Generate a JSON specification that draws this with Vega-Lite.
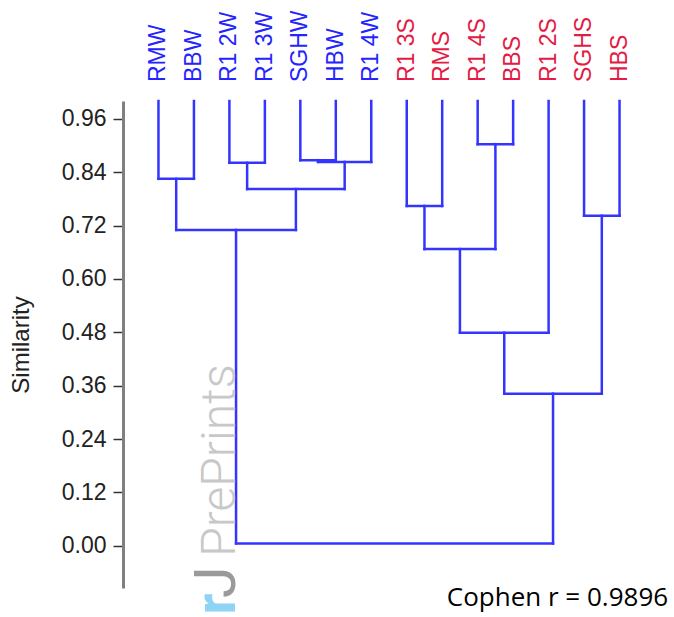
{
  "$schema": "https://vega.github.io/schema/vega-lite/v6.json",
  "autosize": {"type": "none"},
  "padding": {"left": 123, "top": 101, "right": 19, "bottom": 29},
  "width": 532,
  "height": 487,
  "background": "white",
  "config": {"view": {"stroke": null}, "font": "Liberation Sans"},
  "datasets": {
    "merges": [
      {"node": "A", "xl": 0, "hl": 1, "xr": 1, "hr": 1, "h": 0.825},
      {"node": "B", "xl": 2, "hl": 1, "xr": 3, "hr": 1, "h": 0.861},
      {"node": "C", "xl": 4, "hl": 1, "xr": 5, "hr": 1, "h": 0.867},
      {"node": "D", "xl": 4.5, "hl": 0.867, "xr": 6, "hr": 1, "h": 0.863},
      {"node": "E", "xl": 2.5, "hl": 0.861, "xr": 5.25, "hr": 0.863, "h": 0.802},
      {"node": "F", "xl": 0.5, "hl": 0.825, "xr": 3.875, "hr": 0.802, "h": 0.71},
      {"node": "G", "xl": 7, "hl": 1, "xr": 8, "hr": 1, "h": 0.764},
      {"node": "H", "xl": 9, "hl": 1, "xr": 10, "hr": 1, "h": 0.903},
      {"node": "I", "xl": 7.5, "hl": 0.764, "xr": 9.5, "hr": 0.903, "h": 0.667},
      {"node": "J", "xl": 8.5, "hl": 0.667, "xr": 11, "hr": 1, "h": 0.479},
      {"node": "K", "xl": 12, "hl": 1, "xr": 13, "hr": 1, "h": 0.742},
      {"node": "L", "xl": 9.75, "hl": 0.479, "xr": 12.5, "hr": 0.742, "h": 0.342},
      {"node": "root", "xl": 2.1875, "hl": 0.71, "xr": 11.125, "hr": 0.342, "h": 0.005}
    ],
    "leaves": [
      {"i": 0, "name": "RMW", "season": "W"},
      {"i": 1, "name": "BBW", "season": "W"},
      {"i": 2, "name": "R1 2W", "season": "W"},
      {"i": 3, "name": "R1 3W", "season": "W"},
      {"i": 4, "name": "SGHW", "season": "W"},
      {"i": 5, "name": "HBW", "season": "W"},
      {"i": 6, "name": "R1 4W", "season": "W"},
      {"i": 7, "name": "R1 3S", "season": "S"},
      {"i": 8, "name": "RMS", "season": "S"},
      {"i": 9, "name": "R1 4S", "season": "S"},
      {"i": 10, "name": "BBS", "season": "S"},
      {"i": 11, "name": "R1 2S", "season": "S"},
      {"i": 12, "name": "SGHS", "season": "S"},
      {"i": 13, "name": "HBS", "season": "S"}
    ]
  },
  "layer": [
    {
      "data": {"name": "merges"},
      "mark": {"type": "rule", "color": "#3434ff", "strokeWidth": 2.5, "strokeCap": "square"},
      "encoding": {
        "x": {"field": "xl", "type": "quantitative", "scale": {"domain": [-1, 14], "nice": false, "zero": false}, "axis": null},
        "y": {
          "field": "hl", "type": "quantitative",
          "scale": {"domain": [-0.095, 1.0], "nice": false, "zero": false},
          "axis": {
            "title": "Similarity",
            "titleFont": "Liberation Sans",
            "titleFontSize": 24,
            "titleFontWeight": "normal",
            "titleColor": "#222",
            "titleX": -90,
            "titleBaseline": "bottom",
            "values": [0, 0.12, 0.24, 0.36, 0.48, 0.6, 0.72, 0.84, 0.96],
            "format": ".2f",
            "grid": false,
            "domainColor": "#808080",
            "domainWidth": 3,
            "tickColor": "#333",
            "tickWidth": 1.5,
            "tickSize": 10,
            "labelFont": "Liberation Sans",
            "labelFontSize": 23,
            "labelColor": "#222",
            "labelPadding": 7
          }
        },
        "y2": {"field": "h"}
      }
    },
    {
      "data": {"name": "merges"},
      "mark": {"type": "rule", "color": "#3434ff", "strokeWidth": 2.5, "strokeCap": "square"},
      "encoding": {
        "x": {"field": "xr", "type": "quantitative"},
        "y": {"field": "hr", "type": "quantitative"},
        "y2": {"field": "h"}
      }
    },
    {
      "data": {"name": "merges"},
      "mark": {"type": "rule", "color": "#3434ff", "strokeWidth": 2.5, "strokeCap": "square"},
      "encoding": {
        "x": {"field": "xl", "type": "quantitative"},
        "x2": {"field": "xr"},
        "y": {"field": "h", "type": "quantitative"}
      }
    },
    {
      "data": {"name": "leaves"},
      "transform": [{"calculate": "1", "as": "top"}],
      "mark": {"type": "text", "angle": 270, "align": "left", "baseline": "middle", "dx": 19, "font": "Liberation Sans", "fontSize": 23},
      "encoding": {
        "x": {"field": "i", "type": "quantitative"},
        "y": {"field": "top", "type": "quantitative"},
        "text": {"field": "name"},
        "color": {"field": "season", "type": "nominal", "scale": {"domain": ["W", "S"], "range": ["#2424ff", "#e31b45"]}, "legend": null}
      }
    },
    {
      "data": {"values": [{"t": "PrePrints", "px": 2.17, "py": -0.025}]},
      "mark": {"type": "text", "angle": 270, "align": "left", "baseline": "alphabetic", "font": "Roboto", "fontWeight": 300, "fontSize": 48, "color": "#c8c8c8"},
      "encoding": {
        "x": {"field": "px", "type": "quantitative"},
        "y": {"field": "py", "type": "quantitative"},
        "text": {"field": "t"}
      }
    },
    {
      "data": {"values": [{"t": "J", "px": 2.17, "py": -0.118}]},
      "mark": {"type": "text", "angle": 270, "align": "left", "baseline": "alphabetic", "font": "Roboto", "fontWeight": "normal", "fontSize": 58, "color": "#9a9a9a"},
      "encoding": {
        "x": {"field": "px", "type": "quantitative"},
        "y": {"field": "py", "type": "quantitative"},
        "text": {"field": "t"}
      }
    },
    {
      "data": {"values": [{"t": "r", "px": 2.17, "py": -0.155}]},
      "mark": {"type": "text", "angle": 270, "align": "left", "baseline": "alphabetic", "font": "Roboto", "fontWeight": "bold", "fontSize": 58, "color": "#8fd3f5"},
      "encoding": {
        "x": {"field": "px", "type": "quantitative"},
        "y": {"field": "py", "type": "quantitative"},
        "text": {"field": "t"}
      }
    },
    {
      "data": {"values": [{"t": "Cophen r = 0.9896", "px": 14.37, "py": -0.135}]},
      "mark": {"type": "text", "align": "right", "baseline": "alphabetic", "font": "Open Sans", "fontSize": 26, "color": "#000000"},
      "encoding": {
        "x": {"field": "px", "type": "quantitative"},
        "y": {"field": "py", "type": "quantitative"},
        "text": {"field": "t"}
      }
    }
  ]
}
